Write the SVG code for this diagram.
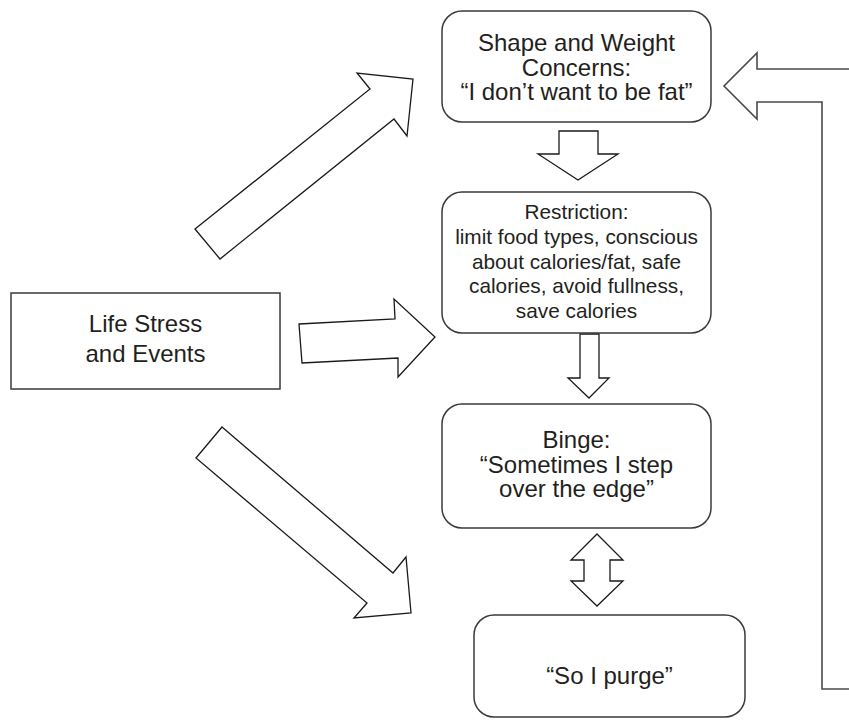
<svg xmlns="http://www.w3.org/2000/svg" width="849" height="721" viewBox="0 0 849 721">
  <style>
    .box { fill: #ffffff; stroke: #3a3a3a; stroke-width: 1.5; }
    .arrow { fill: #ffffff; stroke: #1a1a1a; stroke-width: 1.3; stroke-linejoin: miter; }
    .line { fill: none; stroke: #4a4a4a; stroke-width: 1.6; }
    text { font-family: "Liberation Sans", Arial, sans-serif; fill: #231f20; text-anchor: middle; }
    .big { font-size: 24px; }
    .small { font-size: 20.8px; }
  </style>
  <rect width="849" height="721" fill="#ffffff"/>

  <!-- connectors: block arrows -->
  <g id="connectors">
    <!-- life stress -> shape and weight -->
    <polygon class="arrow" points="195,229 370,89 357,73 413,79 407,136 394,119 220,259"/>
    <!-- life stress -> restriction -->
    <polygon class="arrow" points="299,324 395,319 394,299 435,337 398,377 398,358 302,363"/>
    <!-- life stress -> purge -->
    <polygon class="arrow" points="222,427 393,573 406,557 411,613 354,618 367,603 196,458"/>
    <!-- shape and weight -> restriction -->
    <polygon class="arrow" points="559,131 598,131 598,154 618,154 578,180 538,154 559,154"/>
    <!-- restriction -> binge -->
    <polygon class="arrow" points="580,334 599,334 599,378 609,378 589,398 568,378 580,378"/>
    <!-- binge <-> purge -->
    <polygon class="arrow" points="597,534 623,560 610,560 610,581 623,581 597,606 571,581 584,581 584,560 571,560"/>
    <!-- feedback arrow back to shape and weight -->
    <polyline class="line" points="849,69 757,69 757,53 724,86 757,119 757,102 822,102 822,689 849,689"/>
  </g>

  <g id="shape-weight">
    <rect class="box" x="442" y="11" width="269" height="111" rx="20"/>
    <text class="big" x="576.5" y="51">Shape and Weight</text>
    <text class="big" x="576.5" y="76">Concerns:</text>
    <text class="big" x="576.5" y="100">“I don’t want to be fat”</text>
  </g>

  <g id="restriction">
    <rect class="box" x="442" y="192" width="269" height="141" rx="20"/>
    <text class="small" x="576.5" y="219">Restriction:</text>
    <text class="small" x="576.5" y="244">limit food types, conscious</text>
    <text class="small" x="576.5" y="269">about calories/fat, safe</text>
    <text class="small" x="576.5" y="293">calories, avoid fullness,</text>
    <text class="small" x="576.5" y="318">save calories</text>
  </g>

  <g id="life-stress">
    <rect class="box" x="11" y="293" width="269" height="96"/>
    <text class="big" x="145.5" y="332">Life Stress</text>
    <text class="big" x="145.5" y="362">and Events</text>
  </g>

  <g id="binge">
    <rect class="box" x="442" y="404" width="269" height="124" rx="20"/>
    <text class="big" x="576.5" y="448">Binge:</text>
    <text class="big" x="576.5" y="473">“Sometimes I step</text>
    <text class="big" x="576.5" y="497">over the edge”</text>
  </g>

  <g id="purge">
    <rect class="box" x="474" y="615" width="271" height="102" rx="20"/>
    <text class="big" x="609.5" y="684">“So I purge”</text>
  </g>
</svg>
